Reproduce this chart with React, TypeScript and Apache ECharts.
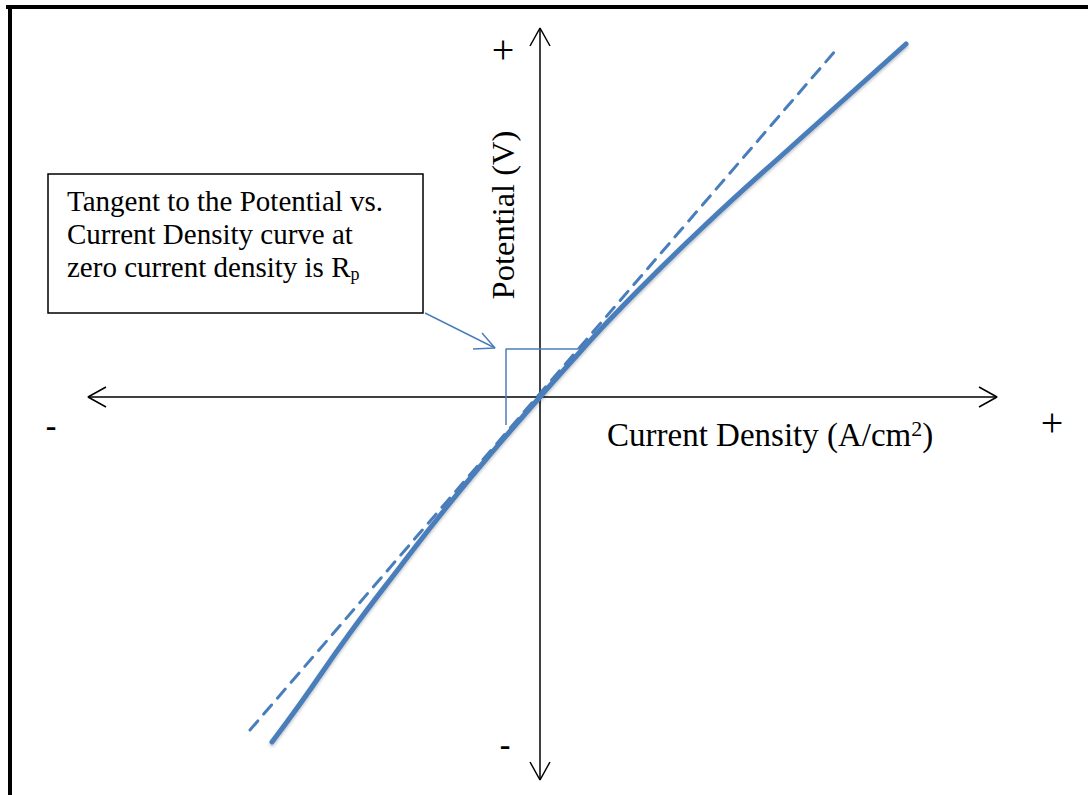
import React, { useEffect, useRef } from "react";
import * as echarts from "echarts";

// Schematic units: current density (x) and potential (y), origin at zero.
const X_MIN = -5.4;
const X_MAX = 5.48;
const Y_MIN = -3.98;
const Y_MAX = 3.97;

// Measured polarization curve (solid)
const curveCurrent = [-2.68, -2.4, -1.9, -1.4, -0.9, -0.4, 0, 0.4, 0.8, 1.6, 2.6, 3.66];
const curvePotential = [-3.45, -3.07, -2.36, -1.7, -1.06, -0.46, 0, 0.45, 0.88, 1.67, 2.58, 3.53];

// Tangent at zero current density (dashed)
const tangentCurrent = [-2.9, 2.96];
const tangentPotential = [-3.33, 3.47];

// Axis extents (arrow tips)
const xAxisEnds = [-4.52, 4.57];
const yAxisEnds = [-3.83, 3.69];

// Bracket marking the slope
const bracketCurrent = [-0.34, -0.34, 0.38];
const bracketPotential = [-0.28, 0.48, 0.48];

// Callout arrow
const calloutCurrent = [-1.15, -0.45];
const calloutPotential = [0.84, 0.49];
const calloutHeadCurrent = [-0.58, -0.45, -0.67];
const calloutHeadPotential = [0.64, 0.49, 0.48];

const boxText =
  "Tangent to the Potential vs.\nCurrent Density curve at\nzero current density is {r|R}{s|p}";

const zip = (a: number[], b: number[]) => a.map((v, i) => [v, b[i]]);

const BLUE = "#4a7ebb";
const SERIF = "'Liberation Serif', 'Times New Roman', serif";

export default function App() {
  const ref = useRef<HTMLDivElement>(null);

  useEffect(() => {
    if (!ref.current) return;
    const chart = echarts.init(ref.current, undefined, { renderer: "svg" });

    const AH = 0.18; // arrow head length
    const AW = 0.1; // arrow half width
    const axisStyle = { color: "#000", width: 1.5 };
    const lineSeries = (data: any[], lineStyle: any, z = 2, smooth = false) => ({
      type: "line",
      data,
      symbol: "none",
      smooth,
      silent: true,
      z,
      lineStyle,
    });

    const sign = (text: string, x: number, y: number, font: string) => ({
      type: "text",
      x,
      y,
      style: { text, font, fill: "#000", align: "center", verticalAlign: "middle" },
    });

    chart.setOption({
      animation: false,
      backgroundColor: "#fff",
      grid: { left: 0, right: 0, top: 0, bottom: 0 },
      xAxis: { type: "value", min: X_MIN, max: X_MAX, show: false },
      yAxis: { type: "value", min: Y_MIN, max: Y_MAX, show: false },
      series: [
        // axes
        lineSeries([[xAxisEnds[0], 0], [xAxisEnds[1], 0]], axisStyle, 1),
        lineSeries([[0, yAxisEnds[0]], [0, yAxisEnds[1]]], axisStyle, 1),
        lineSeries(
          [[xAxisEnds[0] + AH, AW], [xAxisEnds[0], 0], [xAxisEnds[0] + AH, -AW]],
          axisStyle,
          1
        ),
        lineSeries(
          [[xAxisEnds[1] - AH, AW], [xAxisEnds[1], 0], [xAxisEnds[1] - AH, -AW]],
          axisStyle,
          1
        ),
        lineSeries(
          [[-AW, yAxisEnds[1] - AH], [0, yAxisEnds[1]], [AW, yAxisEnds[1] - AH]],
          axisStyle,
          1
        ),
        lineSeries(
          [[-AW, yAxisEnds[0] + AH], [0, yAxisEnds[0]], [AW, yAxisEnds[0] + AH]],
          axisStyle,
          1
        ),
        // bracket
        lineSeries(zip(bracketCurrent, bracketPotential), { color: BLUE, width: 1.5 }, 2),
        // callout arrow
        lineSeries(zip(calloutCurrent, calloutPotential), { color: BLUE, width: 1.5 }, 2),
        lineSeries(zip(calloutHeadCurrent, calloutHeadPotential), { color: BLUE, width: 1.5 }, 2),
        // tangent
        lineSeries(
          zip(tangentCurrent, tangentPotential),
          { color: BLUE, width: 3, type: [12, 9], cap: "round" },
          3
        ),
        // curve
        lineSeries(
          zip(curveCurrent, curvePotential),
          {
            color: BLUE,
            width: 5,
            cap: "round",
            shadowColor: "rgba(0,0,0,0.25)",
            shadowBlur: 3,
            shadowOffsetY: 2,
          },
          4,
          true
        ),
      ],
      graphic: [
        // frame
        {
          type: "line",
          shape: { x1: 6, y1: 7, x2: 1088, y2: 7 },
          style: { stroke: "#000", lineWidth: 4 },
        },
        {
          type: "line",
          shape: { x1: 10, y1: 5, x2: 10, y2: 795 },
          style: { stroke: "#000", lineWidth: 4 },
        },
        // annotation box
        {
          type: "rect",
          shape: { x: 48, y: 174, width: 375, height: 139 },
          style: { fill: "#fff", stroke: "#000", lineWidth: 1.5 },
        },
        {
          type: "text",
          x: 67,
          y: 184,
          style: {
            text: boxText,
            font: `29px ${SERIF}`,
            lineHeight: 33,
            fill: "#000",
            align: "left",
            verticalAlign: "top",
            rich: {
              r: { font: `29px ${SERIF}`, fill: "#000", lineHeight: 33 },
              s: {
                font: `18px ${SERIF}`,
                fill: "#000",
                lineHeight: 18,
                verticalAlign: "bottom",
                padding: [12, 0, 0, 0],
              },
            },
          },
        },
        // axis titles
        {
          type: "text",
          x: 503,
          y: 215,
          rotation: Math.PI / 2,
          style: {
            text: "Potential (V)",
            font: `32.5px ${SERIF}`,
            fill: "#000",
            align: "center",
            verticalAlign: "middle",
          },
        },
        {
          type: "text",
          x: 607,
          y: 435,
          style: {
            text: "Current Density (A/cm{sup|2})",
            font: `33px ${SERIF}`,
            lineHeight: 35,
            fill: "#000",
            align: "left",
            verticalAlign: "middle",
            rich: {
              sup: {
                font: `22px ${SERIF}`,
                fill: "#000",
                lineHeight: 22,
                verticalAlign: "top",
              },
            },
          },
        },
        // signs
        sign("+", 503, 49, `40px ${SERIF}`),
        sign("+", 1052, 422, `40px ${SERIF}`),
        sign("-", 51, 425, `bold 32px ${SERIF}`),
        sign("-", 505, 744, `bold 32px ${SERIF}`),
      ],
    });

    return () => chart.dispose();
  }, []);

  return (
    <div
      ref={ref}
      style={{ position: "fixed", left: 0, top: 0, width: 1088, height: 795, background: "#fff" }}
    />
  );
}
